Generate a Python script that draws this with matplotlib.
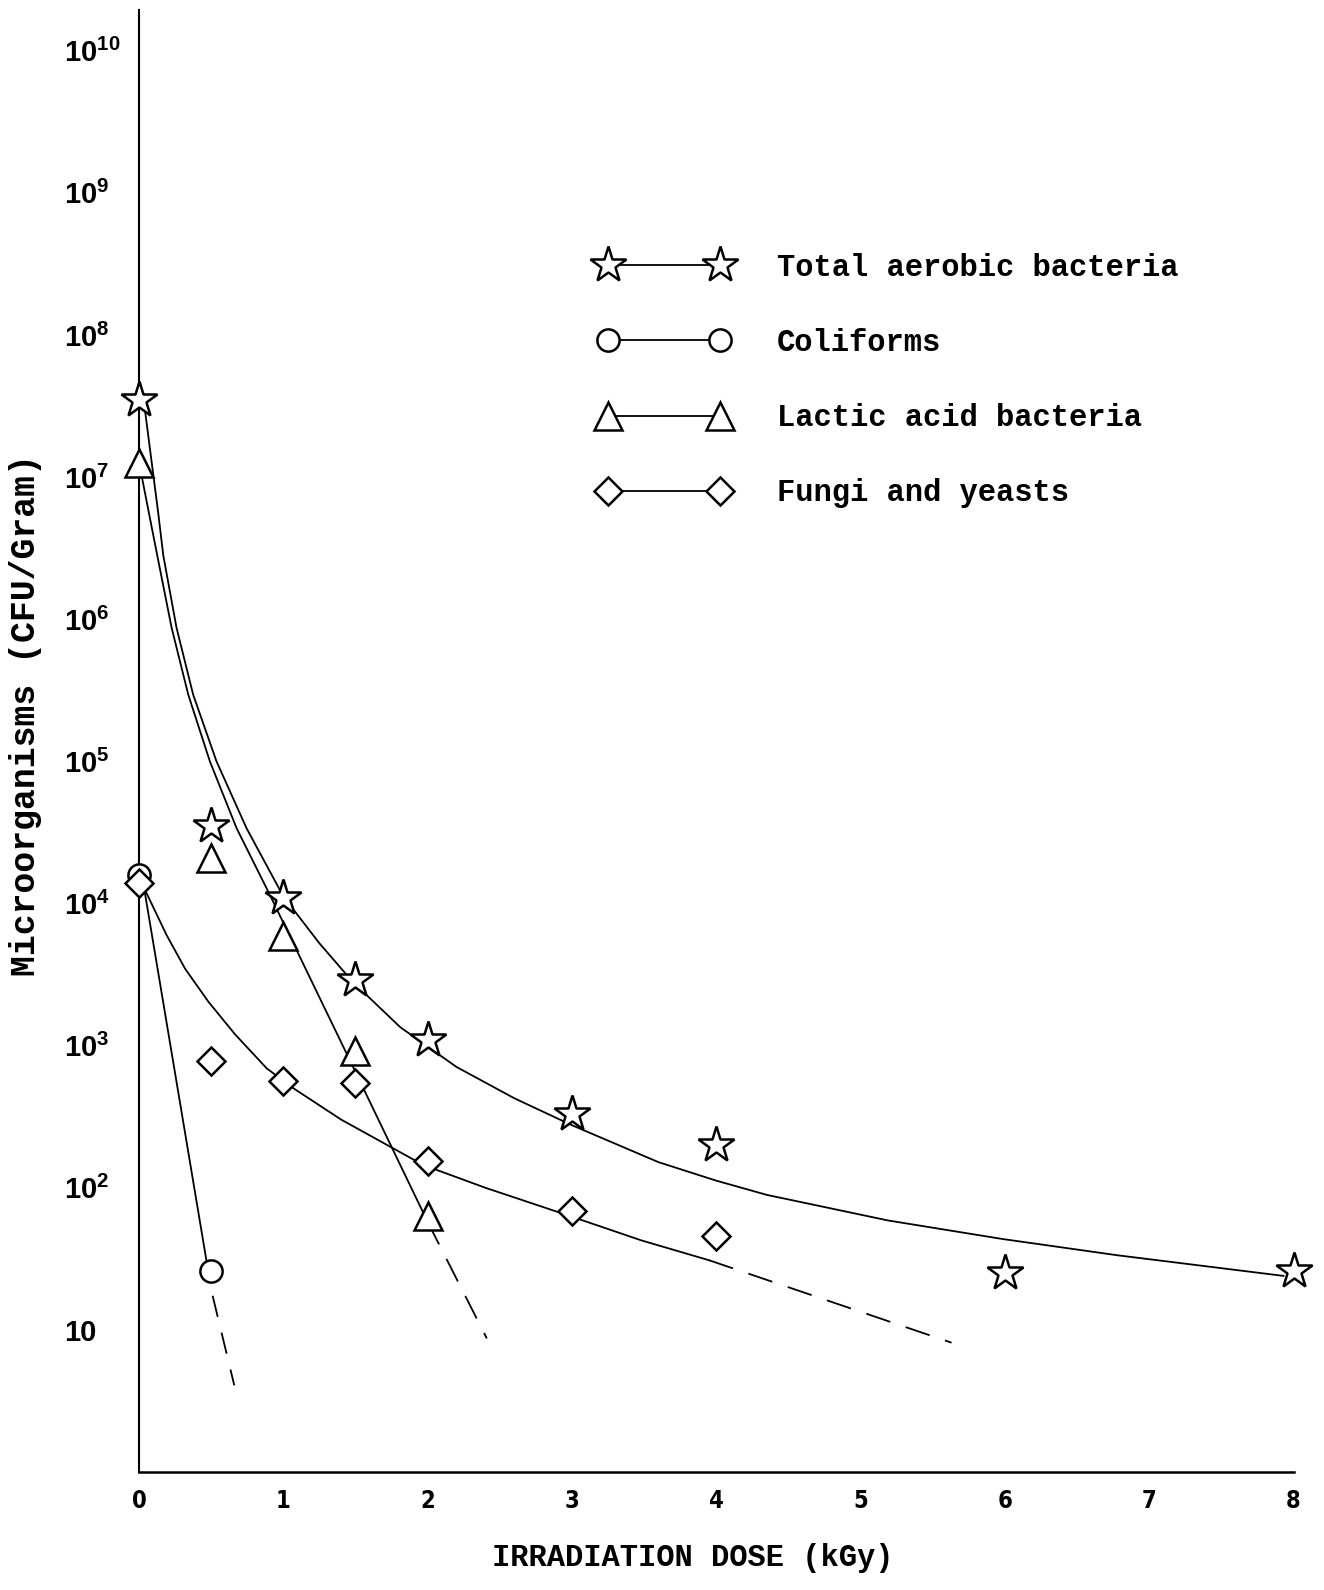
import matplotlib
matplotlib.use("Agg")
import numpy as np
import matplotlib.pyplot as plt
from matplotlib.lines import Line2D

# measured points (CFU/g) vs dose (kGy)
dose_total = [0, 0.5, 1, 1.5, 2, 3, 4, 6, 8]
cfu_total = [3.5e7, 3.5e4, 1.1e4, 2.9e3, 1.1e3, 330, 200, 25, 26]

dose_coli = [0, 0.5]
cfu_coli = [1.6e4, 26]

dose_lactic = [0, 0.5, 1, 1.5, 2]
cfu_lactic = [1.26e7, 2.1e4, 5.9e3, 910, 63]

dose_fungi = [0, 0.5, 1, 1.5, 2, 3, 4]
cfu_fungi = [1.4e4, 780, 560, 550, 155, 69, 46]

# hand-drawn fitted curves (log10 CFU/g)
fit_total_x = [0.035, 0.134, 0.168, 0.26, 0.375, 0.537, 0.745, 1.0, 1.25, 1.48, 1.81,
               2.2, 2.6, 3.0, 3.6, 4.0, 4.35, 5.19, 5.98, 6.78, 7.93]
fit_total_log = [7.52, 6.74, 6.45, 5.94, 5.47, 5.00, 4.53, 4.05, 3.72, 3.45, 3.13,
                 2.85, 2.63, 2.44, 2.18, 2.05, 1.95, 1.77, 1.64, 1.525, 1.38]

fit_lactic_x = [0.02, 0.07, 0.134, 0.226, 0.341, 0.491, 0.676, 0.907, 1.45, 2.0]
fit_lactic_log = [7.0, 6.74, 6.41, 5.94, 5.47, 5.00, 4.53, 4.06, 2.92, 1.76]
ext_lactic_x = [2.0, 2.41]
ext_lactic_log = [1.76, 0.94]

fit_coli_x = [0.02, 0.48]
fit_coli_log = [4.2, 1.41]
ext_coli_x = [0.51, 0.66]
ext_coli_log = [1.24, 0.61]

fit_fungi_x = [0.03, 0.19, 0.32, 0.48, 0.665, 0.885, 1.07, 1.4, 1.81, 1.97, 2.40,
               2.96, 3.48, 3.95]
fit_fungi_log = [4.12, 3.78, 3.54, 3.31, 3.08, 2.84, 2.70, 2.48, 2.25, 2.16, 2.0,
                 1.81, 1.63, 1.49]
ext_fungi_x = [3.95, 5.63]
ext_fungi_log = [1.49, 0.91]

x_ticks = [0, 1, 2, 3, 4, 5, 6, 7, 8]
y_ticks = [10, 1e2, 1e3, 1e4, 1e5, 1e6, 1e7, 1e8, 1e9, 1e10]
y_labels = ["10"] + [r"$\mathregular{10^{%d}}$" % n for n in range(2, 11)]

legend_names = ["Total aerobic bacteria", "Coliforms",
                "Lactic acid bacteria", "Fungi and yeasts"]

plt.rcParams["mathtext.fontset"] = "custom"
plt.rcParams["mathtext.rm"] = "Liberation Sans:bold"
plt.rcParams["mathtext.bf"] = "Liberation Sans:bold"

mono = "Liberation Mono"
lw = 1.3
face = dict(markerfacecolor="white", markeredgecolor="black", markeredgewidth=1.8)
styles = {
    "star": dict(marker="*", markersize=27),
    "circ": dict(marker="o", markersize=16),
    "tri": dict(marker="^", markersize=20),
    "dia": dict(marker="D", markersize=14),
}

fig = plt.figure(figsize=(13.24, 15.9), dpi=100)
ax = fig.add_axes([0.105, 0.0742, 0.872, 0.9198])
ax.set_yscale("log")


def curve(x, logv, **kw):
    ax.plot(x, 10 ** np.array(logv), color="black", lw=lw, **kw)


curve(fit_total_x, fit_total_log)
curve(fit_lactic_x, fit_lactic_log)
curve(ext_lactic_x, ext_lactic_log, dashes=(14, 9))
curve(fit_coli_x, fit_coli_log)
curve(ext_coli_x, ext_coli_log, dashes=(12, 9))
curve(fit_fungi_x, fit_fungi_log)
curve(ext_fungi_x, ext_fungi_log, dashes=(14, 9))

for xs, ys, key in [(dose_total, cfu_total, "star"), (dose_coli, cfu_coli, "circ"),
                    (dose_lactic, cfu_lactic, "tri"), (dose_fungi, cfu_fungi, "dia")]:
    ax.plot(xs, ys, linestyle="none", clip_on=False, zorder=3, **face, **styles[key])

ax.set_xlim(0, 8)
ax.set_ylim(1, 10 ** 10.29)
for s in ["top", "right"]:
    ax.spines[s].set_visible(False)
ax.spines["left"].set_linewidth(1.5)
ax.spines["bottom"].set_linewidth(1.8)

ax.set_xticks(x_ticks)
ax.set_xticklabels([str(t) for t in x_ticks], family="DejaVu Sans",
                   fontstretch="condensed", fontweight="bold", fontsize=17)
ax.set_yticks(y_ticks)
ax.set_yticklabels(y_labels, fontsize=21, ha="left", family="Liberation Sans",
                   fontweight="bold")
ax.minorticks_off()
ax.tick_params(axis="y", length=0, pad=54)
ax.tick_params(axis="x", length=0, pad=12)

fig.text(0.523, 0.011, "IRRADIATION DOSE (kGy)", family=mono, fontweight="bold",
         fontsize=22, ha="center", va="bottom")
fig.text(0.019, 0.55, "Microorganisms (CFU/Gram)", family=mono, fontweight="bold",
         fontsize=25, rotation=90, ha="center", va="center")

handles = [Line2D([], [], color="black", lw=lw, **face, **styles[k])
           for k in ["star", "circ", "tri", "dia"]]
leg = ax.legend(handles, legend_names, loc="upper left",
                bbox_to_anchor=(0.452, 0.841), bbox_transform=fig.transFigure,
                numpoints=2, frameon=False, handlelength=4.27, handletextpad=1.57,
                labelspacing=1.48, borderpad=0, borderaxespad=0,
                prop=dict(family=mono, weight="bold", size=22))

fig.savefig("out.png", dpi=100)
